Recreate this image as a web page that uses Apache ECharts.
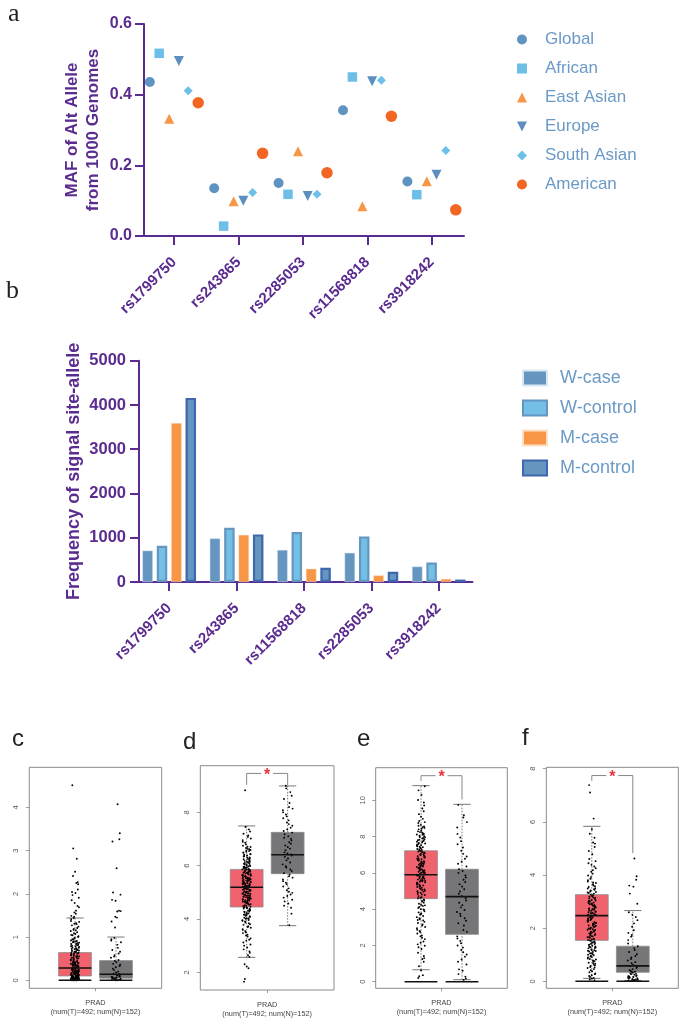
<!DOCTYPE html>
<html><head><meta charset="utf-8">
<script src="https://cdn.jsdelivr.net/npm/echarts@6/dist/echarts.min.js"></script>
<style>html,body{margin:0;padding:0;background:#fff}#c{width:685px;height:1023px}</style>
</head><body><div id="c"></div>
<script>
// ---------- panel a ----------
const mafSnps = ['rs1799750','rs243865','rs2285053','rs11568818','rs3918242'];
const mafGlobal = [0.436,0.135,0.150,0.356,0.154];
const mafAfrican = [0.517,0.028,0.118,0.450,0.117];
const mafEastAsian = [0.332,0.098,0.240,0.084,0.155];
const mafEurope = [0.495,0.100,0.113,0.438,0.173];
const mafSouthAsian = [0.411,0.123,0.118,0.441,0.242];
const mafAmerican = [0.377,0.234,0.179,0.339,0.074];
// ---------- panel b ----------
const freqSnps = ['rs1799750','rs243865','rs11568818','rs2285053','rs3918242'];
const wCase = [710,985,725,660,350];
const wControl = [820,1225,1130,1030,440];
const mCase = [3590,1065,300,150,70];
const mControl = [4160,1075,320,230,55];
// ---------- panels c-f: [min,q1,median,q3,max] ----------
const boxC = [[0,0.10,0.285,0.64,1.44],[0,0.05,0.14,0.455,1.0]];
const boxD = [[2.56,4.45,5.19,5.86,7.49],[3.75,5.70,6.41,7.25,8.99]];
const boxE = [[0.66,4.58,5.90,7.22,10.81],[0.11,2.61,4.69,6.20,9.78]];
const boxF = [[0.11,1.54,2.47,3.26,5.83],[0.03,0.34,0.58,1.32,2.66]];
const ticksC = [0,1,2,3,4], ticksD = [2,4,6,8], ticksE = [0,2,4,6,8,10], ticksF = [0,2,4,6,8];
const sampleLabel = 'PRAD\n(num(T)=492; num(N)=152)';
// expression dots
const dotsCT = [4.51,3.05,2.81,2.51,2.41,2.27,2.25,2.22,2.1,2.04,2.02,1.97,1.91,1.85,1.79,1.72,1.69,1.61,1.57,1.54,1.49,1.47,1.44,1.41,1.37,1.35,1.32,1.3,1.27,1.24,1.21,1.19,1.17,1.14,1.11,1.09,1.07,1.04,1.02,1.0,.98,.95,.94,.91,.9,.88,.86,.85,.83,.81,.8,.78,.76,.75,.73,.72,.7,.69,.67,.66,.65,.63,.62,.6,.59,.58,.56,.55,.54,.52,.51,.5,.49,.47,.46,.45,.44,.42,.41,.4,.39,.38,.37,.36,.35,.34,.33,.32,.31,.3,.29,.28,.27,.26,.25,.24,.23,.22,.21,.2,.19,.18,.17,.16,.15,.14,.13,.12,.11,.1,.09,.08,.07,.06,.05,.04,.03,.02,.01,0,.22,.18,.14,.11,.08,.05,.03,.02,.01,0,.16,.12,.09,.06,.04,.02,.01,0,.07,.03,.01];
const dotsCTcore = [1.31,1.16,1.05,.97,.89,.84,.79,.77,.74,.71,.68,.64,.61,.57,.53,.48,.43,.4,.37,.35,.33,.31,.29,.27,.25,.23,.21,.19,.17,.15,.13,.12,.1,.09,.08,.07,.06,.05,.04,.03,.03,.02,.02,.01,.01,0,0,.92,.87,.82,.73,.69,.63,.56,.49,.44,.38,.34,.3,.26,.22,.2,.16,.14,.11,.09,.06,.04,.02,.01,0];
const dotsCN = [4.07,3.40,3.26,3.21,2.59,2.03,1.98,1.86,1.84,1.61,1.6,1.59,1.47,1.45,1.36,1.22,.98,.95,.92,.88,.82,.75,.7,.66,.62,.58,.55,.52,.47,.45,.42,.38,.36,.33,.3,.27,.24,.2,.18,.15,.14,.12,.1,.09,.07,.06,.05,.04,.03,.02,.01,.01,0,0,.11,.08,.05,.02];
const dotsDT = [1.65,1.75,2.15,2.22,2.3,2.58,2.64,2.73,2.78,2.86,2.93,3.0,3.04,3.12,3.19,3.22,3.27,3.34,3.38,3.41,3.47,3.5,3.54,3.59,3.62,3.67,3.7,3.73,3.78,3.8,3.84,3.87,3.91,3.93,3.96,4.01,4.02,4.05,4.08,4.1,4.14,4.16,4.18,4.21,4.23,4.26,4.28,4.31,4.34,4.36,4.39,4.41,4.44,4.46,4.48,4.5,4.53,4.55,4.58,4.6,4.63,4.65,4.67,4.7,4.72,4.74,4.77,4.79,4.81,4.84,4.86,4.88,4.9,4.92,4.95,4.97,5.0,5.02,5.04,5.06,5.09,5.11,5.13,5.15,5.17,5.2,5.22,5.24,5.26,5.28,5.31,5.33,5.35,5.37,5.39,5.42,5.44,5.46,5.48,5.5,5.53,5.55,5.57,5.59,5.61,5.63,5.66,5.68,5.7,5.72,5.74,5.77,5.79,5.81,5.83,5.86,5.88,5.91,5.94,5.96,5.99,6.02,6.05,6.07,6.1,6.13,6.16,6.18,6.22,6.25,6.28,6.31,6.34,6.38,6.41,6.44,6.48,6.52,6.55,6.59,6.63,6.66,6.71,6.75,6.8,6.86,6.9,6.96,7.02,7.08,7.13,7.2,7.28,7.36,7.45,8.83];
const dotsDTcore = [3.95,4.03,4.12,4.19,4.27,4.33,4.38,4.43,4.47,4.52,4.56,4.61,4.64,4.69,4.73,4.76,4.8,4.83,4.87,4.91,4.94,4.98,5.01,5.05,5.08,5.12,5.14,5.18,5.21,5.25,5.27,5.3,5.34,5.38,5.41,5.45,5.47,5.51,5.54,5.58,5.6,5.64,5.67,5.71,5.73,5.76,5.8,5.84,5.87,5.9,5.93,5.97,6.01,6.04,6.08,6.12,6.15,6.2,6.24,6.3,6.36,6.43,6.5,6.57,6.62,6.7,4.68,4.82,4.96,5.1,5.23,5.32,5.43,5.52,5.62,5.75,5.85,5.95];
const dotsDN = [3.77,4.2,4.42,4.5,4.58,4.66,4.72,4.8,4.86,4.92,4.98,5.02,5.08,5.15,5.22,5.3,5.36,5.42,5.48,5.55,5.6,5.66,5.72,5.8,5.86,5.93,5.98,6.05,6.12,6.2,6.27,6.33,6.38,6.42,6.46,6.5,6.58,6.64,6.7,6.76,6.82,6.88,6.94,7.0,7.05,7.1,7.18,7.24,7.3,7.36,7.42,7.5,7.56,7.62,7.7,7.78,7.85,7.92,8.0,8.08,8.14,8.2,8.35,8.5,8.62,8.76,8.9,9.0];
const dotsET = [0.2,.3,.36,.62,.85,1.1,1.25,1.3,1.42,1.6,1.8,1.9,1.98,2.06,2.15,2.22,2.35,2.42,2.5,2.55,2.66,2.74,2.8,2.86,2.95,3.02,3.1,3.16,3.24,3.3,3.38,3.44,3.5,3.56,3.62,3.7,3.76,3.82,3.88,3.95,4.0,4.06,4.12,4.18,4.24,4.3,4.36,4.42,4.48,4.54,4.6,4.66,4.72,4.78,4.84,4.9,4.96,5.02,5.06,5.12,5.18,5.22,5.28,5.33,5.38,5.43,5.48,5.53,5.58,5.63,5.68,5.73,5.78,5.82,5.87,5.92,5.96,6.01,6.06,6.11,6.15,6.2,6.25,6.3,6.35,6.4,6.45,6.5,6.55,6.6,6.65,6.7,6.76,6.81,6.87,6.92,6.98,7.03,7.09,7.15,7.2,7.26,7.32,7.38,7.44,7.5,7.56,7.62,7.68,7.74,7.8,7.86,7.92,7.98,8.05,8.12,8.18,8.25,8.32,8.4,8.48,8.56,8.65,8.75,8.86,8.98,9.1,9.24,9.4,9.55,9.72,9.88,10.02,10.3,10.55,10.78];
const dotsETcore = [3.4,3.72,3.98,4.21,4.45,4.63,4.81,4.99,5.15,5.25,5.35,5.46,5.56,5.66,5.76,5.85,5.94,6.04,6.13,6.23,6.33,6.43,6.52,6.63,6.73,6.84,6.95,7.06,7.18,7.29,7.41,7.53,7.65,7.77,7.89,8.02,8.15,8.29,8.43,8.6,8.8,5.4,5.6,5.8,6.0,6.17,6.37,6.58,6.78,7.0,7.23,7.47,7.72,7.96,8.21,8.52,4.93,5.08,5.31,5.51,5.71,5.9,6.09,6.28,6.48,6.68,6.9,7.12,7.35,7.59,7.83,8.1];
const dotsEN = [0.1,.18,.28,.42,.6,.68,.95,1.1,1.22,1.38,1.5,1.62,1.75,1.88,2.0,2.12,2.25,2.38,2.5,2.75,2.85,3.1,3.22,3.36,3.5,3.62,3.75,3.84,3.95,4.1,4.22,4.35,4.48,4.6,4.72,4.85,4.98,5.1,5.25,5.38,5.5,5.62,5.75,5.86,6.0,6.1,6.2,6.35,6.5,6.62,6.78,6.9,7.05,7.22,7.4,7.58,7.75,7.95,8.15,8.5,8.8,9.05,9.18,9.75];
const dotsFT = [7.38,7.1,6.12,5.72,5.55,5.4,5.22,5.18,5.05,4.9,4.78,4.6,4.52,4.44,4.38,4.32,4.25,4.18,4.12,4.05,3.98,3.92,3.86,3.8,3.75,3.7,3.65,3.6,3.55,3.5,3.46,3.42,3.38,3.34,3.3,3.26,3.22,3.18,3.14,3.1,3.06,3.03,3.0,2.96,2.93,2.9,2.86,2.83,2.8,2.76,2.73,2.7,2.66,2.63,2.6,2.56,2.53,2.5,2.47,2.44,2.4,2.37,2.34,2.3,2.27,2.24,2.2,2.17,2.14,2.1,2.07,2.04,2.0,1.97,1.94,1.9,1.87,1.84,1.8,1.77,1.74,1.7,1.67,1.64,1.6,1.57,1.54,1.5,1.47,1.44,1.4,1.37,1.34,1.3,1.27,1.24,1.2,1.17,1.14,1.1,1.06,1.03,1.0,.96,.93,.9,.86,.82,.78,.74,.7,.66,.62,.58,.54,.5,.46,.42,.38,.34,.3,.27,.23,.2,.16,.13,.1,.07,.04];
const dotsFTcore = [3.72,3.58,3.44,3.32,3.2,3.12,3.04,2.98,2.91,2.85,2.78,2.72,2.65,2.58,2.51,2.45,2.39,2.32,2.26,2.19,2.12,2.06,1.99,1.93,1.86,1.79,1.73,1.66,1.59,1.52,1.45,1.38,1.31,1.25,1.18,1.12,1.05,.98,.91,.84,.76,.68,.6,.52,3.0,2.87,2.74,2.61,2.48,2.35,2.22,2.09,1.96,1.83,1.69,1.55,1.41,1.28,1.15,3.49,3.36,3.24,3.15,2.94,2.81,2.69,2.55,2.42,2.29,2.15,2.02];
const dotsFN = [4.62,3.95,3.82,3.6,3.56,3.3,2.92,2.6,2.5,2.42,2.3,2.18,2.05,1.92,1.82,1.74,1.68,1.55,1.42,1.32,1.25,1.18,1.1,1.02,.95,.9,.84,.78,.72,.68,.62,.58,.54,.5,.46,.42,.39,.36,.33,.3,.28,.25,.22,.2,.18,.16,.14,.12,.1,.09,.07,.06,.05,.04,.03,.02,.35,.27,.19,.13,.08,.03];
// hand-typed horizontal scatter of the dots, as a share of the jitter width
const jitterShare = [-.62,.31,.88,-.14,-.93,.52,.07,-.41,.74,-.77,.19,.96,-.28,-.55,.43,.66,-.08,-.86,.27,-.36,.81,.02,-.69,.58,-.19,.37,-.98,.71,-.47,.12,.91,-.33,-.72,.49,-.03,.63,-.58,.24,-.89,.79,-.23];

const purple = '#5b2c8f', legendBlue = '#6b9ac6';
const sans = '"Liberation Sans",Arial,sans-serif';

const grids = [], xAxes = [], yAxes = [], series = [], graphics = [];

function purpleAxis(extra){
  return Object.assign({
    axisLine:{show:true,lineStyle:{color:purple,width:2}},
    axisTick:{show:true,length:9,lineStyle:{color:purple,width:2}},
    splitLine:{show:false}
  },extra);
}
function catLabels(){ return {rotate:45,interval:0,color:purple,fontFamily:sans,fontWeight:'bold',fontSize:15,margin:24}; }

// ---- panel a ----
grids.push({left:142,top:24,width:322,height:212});
xAxes.push(purpleAxis({gridIndex:0,type:'category',data:mafSnps,axisTick:{show:true,alignWithLabel:true,length:9,lineStyle:{color:purple,width:2}},axisLabel:catLabels()}));
yAxes.push(purpleAxis({gridIndex:0,type:'value',min:0,max:0.6,interval:0.2,offset:-2,
  name:'MAF of Alt Allele\nfrom 1000 Genomes',nameLocation:'middle',nameGap:40,
  nameTextStyle:{color:purple,fontFamily:sans,fontWeight:'bold',fontSize:17,lineHeight:21},
  axisLabel:{color:purple,fontFamily:sans,fontWeight:'bold',fontSize:16,margin:12,formatter:v=>v.toFixed(1)}}));
[['Global',mafGlobal,'circle',10,'#5f94c2',-24.4],
 ['African',mafAfrican,'rect',9.5,'#6dbfe8',-15],
 ['East Asian',mafEastAsian,'triangle',10,'#f79646',-5],
 ['Europe',mafEurope,'path://M0 0L10 0L5 10Z',10,'#5b8fc0',4.7],
 ['South Asian',mafSouthAsian,'diamond',9,'#6cc0ea',14],
 ['American',mafAmerican,'circle',11.5,'#f26522',24]
].forEach(s=>series.push({name:s[0],type:'scatter',xAxisIndex:0,yAxisIndex:0,data:s[1],symbol:s[2],symbolSize:s[3],
  symbolOffset:[s[5],0],itemStyle:{color:s[4],opacity:1}}));

// ---- panel b ----
grids.push({left:135.5,top:360.7,width:337,height:221.3});
xAxes.push(purpleAxis({gridIndex:1,type:'category',data:freqSnps,axisTick:{show:true,alignWithLabel:true,length:9,lineStyle:{color:purple,width:2}},axisLabel:catLabels()}));
yAxes.push(purpleAxis({gridIndex:1,type:'value',min:0,max:5000,interval:1000,offset:-3.5,
  name:'Frequency of signal site-allele',nameLocation:'middle',nameGap:56,
  nameTextStyle:{color:purple,fontFamily:sans,fontWeight:'bold',fontSize:18},
  axisLabel:{color:purple,fontFamily:sans,fontWeight:'bold',fontSize:16.5,margin:13,formatter:v=>String(v)}}));
[['W-case',wCase,'#6596c0','#dbe7f1',0.5],
 ['W-control',wControl,'#74bfe6','#6596c0',2.2],
 ['M-case',mCase,'#f79646','#fde0c6',0.5],
 ['M-control',mControl,'#6596c0','#3f66ae',2.2]
].forEach(s=>series.push({name:s[0],type:'bar',xAxisIndex:1,yAxisIndex:1,data:s[1],barWidth:10.5,barGap:'37%',
  itemStyle:{color:s[2],borderColor:s[3],borderWidth:s[4]}}));

// ---- panels c-f ----
function boxRender(params,api){
  const x=api.value(0), w=api.size([0.8,0])[0], cap=api.size([0.42,0])[0];
  const c=v=>api.coord([x,v]);
  const p0=c(api.value(1)),p1=c(api.value(2)),p3=c(api.value(4)),p4=c(api.value(5));
  const px=p0[0], color=api.value(6)===0?'#f0626e':'#767678';
  const line=(x1,y1,x2,y2,dash)=>({type:'line',shape:{x1,y1,x2,y2},style:{stroke:'#555',lineWidth:0.8,lineDash:dash?[1.5,1.5]:null,fill:null}});
  return {type:'group',children:[
    line(px,p0[1],px,p1[1],true),line(px,p3[1],px,p4[1],true),
    line(px-cap/2,p0[1],px+cap/2,p0[1]),line(px-cap/2,p4[1],px+cap/2,p4[1]),
    {type:'rect',shape:{x:px-w/2,y:p3[1],width:w,height:p1[1]-p3[1]},style:{fill:color,stroke:'#8b8b8b',lineWidth:0.8}}
  ]};
}
function barRender(params,api){
  const x=api.value(0), w=api.size([0.8,0])[0], p=api.coord([x,api.value(1)]);
  return {type:'line',shape:{x1:p[0]-w/2,y1:p[1],x2:p[0]+w/2,y2:p[1]},style:{stroke:'#111',lineWidth:1.6,fill:null}};
}
function panel(o){
  const g=grids.length, unit=41, extra=(o.w/unit-1)/2;
  grids.push({left:o.x,top:o.y,width:o.w,height:o.h,show:true,borderColor:'#8a8a8a',borderWidth:1,backgroundColor:'#fff'});
  const xv=xAxes.length;
  xAxes.push({gridIndex:g,type:'value',show:false,min:-extra,max:1+extra,position:'bottom',axisLine:{onZero:false}});
  xAxes.push({gridIndex:g,type:'category',position:'bottom',data:[sampleLabel],axisLine:{show:false,onZero:false},
    axisTick:{show:true,alignWithLabel:true,length:3,lineStyle:{color:'#777',width:0.7}},
    axisLabel:{color:'#444',fontFamily:sans,fontSize:7.3,lineHeight:9.3,margin:10,interval:0}});
  const yi=yAxes.length;
  yAxes.push({gridIndex:g,type:'value',min:o.ymin,max:o.ymax,position:'left',axisLine:{show:false,onZero:false},splitLine:{show:false},
    axisTick:{show:true,length:3.5,customValues:o.ticks,lineStyle:{color:'#777',width:0.7}},
    axisLabel:{show:true,customValues:o.ticks,rotate:90,color:'#555',fontFamily:sans,fontSize:7.5,margin:9}});
  const base={xAxisIndex:xv,yAxisIndex:yi,silent:true};
  const rows=o.box.map((b,i)=>[i,b[0],b[1],b[2],b[3],b[4],i]);
  series.push(Object.assign({type:'custom',renderItem:boxRender,data:rows,z:2,clip:false,encode:{x:0,y:[1,5]}},base));
  [o.t,o.n].forEach((vals,i)=>{
    const spread=i===0?0.105:0.125;
    series.push(Object.assign({type:'scatter',z:3,symbol:'circle',symbolSize:1.9,
      itemStyle:{color:'#000',opacity:1},large:false,
      data:vals.map((v,k)=>[i+jitterShare[(k*7+i)%jitterShare.length]*spread,v])},base));
  });
  series.push(Object.assign({type:'custom',renderItem:barRender,z:4,encode:{x:0,y:1},
    data:o.box.map((b,i)=>[i,b[2]]).concat(o.zero?[[0,0],[1,0]]:[])},base));
  if(o.bracket){
    const b=o.bracket;
    series.push(Object.assign({type:'line',z:3,symbol:'none',lineStyle:{color:'#7a7a7a',width:0.9},
      data:[[0,b[0]],[0,b[1]],[1,b[1]],[1,b[2]]]},base));
    series.push(Object.assign({type:'scatter',z:4,symbol:'rect',symbolSize:[12,4],itemStyle:{color:'#fff',opacity:1},
      label:{show:true,position:'inside',formatter:'*',color:'#e8333c',fontFamily:sans,fontWeight:'bold',fontSize:16,offset:[0,2]},
      data:[[0.5,b[1]]]},base));
  }
}
panel({x:29.3,y:767.3,w:132.4,h:221,ymin:-0.185,ymax:4.925,ticks:ticksC,box:boxC,t:dotsCT.concat(dotsCTcore),n:dotsCN,zero:true});
panel({x:200.3,y:765.7,w:133.7,h:224.3,ymin:1.336,ymax:9.75,ticks:ticksD,box:boxD,t:dotsDT.concat(dotsDTcore),n:dotsDN,bracket:[9.03,9.46,9.03]});
panel({x:375.7,y:767.7,w:131.6,h:220.6,ymin:-0.364,ymax:11.8,ticks:ticksE,box:boxE,t:dotsET.concat(dotsETcore),n:dotsEN,zero:true,bracket:[11.07,11.36,10.05]});
panel({x:546.3,y:767.3,w:132,h:221,ymin:-0.263,ymax:8.05,ticks:ticksF,box:boxF,t:dotsFT.concat(dotsFTcore),n:dotsFN,zero:true,bracket:[7.54,7.74,4.82]});

[['a',8,1,'"Liberation Serif",serif',26],['b',6,278,'"Liberation Serif",serif',26],
 ['c',12,727,sans,24],['d',183,730,sans,24],['e',357,727,sans,24],['f',522,726,sans,24]
].forEach(t=>graphics.push({type:'text',left:t[1],top:t[2],style:{text:t[0],font:t[4]+'px '+t[3],fill:'#222'}}));

const chart=echarts.init(document.getElementById('c'),null,{renderer:'canvas'});
chart.setOption({
  animation:false,backgroundColor:'#fff',
  grid:grids,xAxis:xAxes,yAxis:yAxes,series,graphic:graphics,
  legend:[
    {data:['Global','African','East Asian','Europe','South Asian','American'],orient:'vertical',left:512,top:26,
     itemWidth:10,itemHeight:10,itemGap:12,selectedMode:false,
     textStyle:{color:legendBlue,fontFamily:sans,fontSize:17,padding:[0,0,0,13]}},
    {data:['W-case','W-control','M-case','M-control'],orient:'vertical',left:517,top:364,
     icon:'rect',itemWidth:24,itemHeight:15,itemGap:12,selectedMode:false,
     textStyle:{color:legendBlue,fontFamily:sans,fontSize:18,padding:[0,0,0,8]}}
  ]
});
</script></body></html>
